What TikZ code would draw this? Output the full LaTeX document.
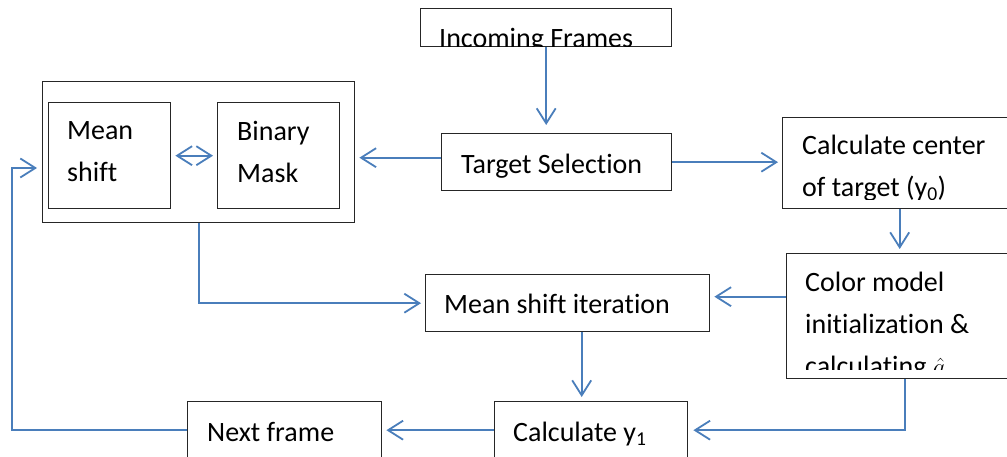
\documentclass[tikz,border=0pt]{standalone}
\usepackage{fontspec}
\setmainfont{Carlito}[Ligatures=NoCommon]
\usepackage{tikz}
\usetikzlibrary{arrows.meta}
\definecolor{flowblue}{RGB}{74,126,187}

\begin{document}
\begin{tikzpicture}[x=1pt,y=-1pt,
  >={Straight Barb[length=15pt,width=19pt]},
  box/.style={draw=black!85,line width=1.4pt,anchor=north west,inner sep=0pt},
  lbl/.style={anchor=north west,inner sep=0pt,align=left,font=\fontsize{28}{42}\selectfont,
              execute at begin node=\rule{0pt}{22pt}},
  link/.style={draw=flowblue,line width=1.8pt,->,shorten >=4pt},
]
\useasboundingbox (0,0) rectangle (1007,457);
\clip (0,0) rectangle (1007,457);
% blocks
\node[box,minimum width=251pt,minimum height=38pt] (inc) at (420,8) {};
\node[box,minimum width=230pt,minimum height=57pt] (tsel) at (441,133) {};
\node[box,minimum width=312pt,minimum height=141pt] (grp) at (42,81) {};
\node[box,minimum width=122pt,minimum height=106pt] (ms) at (48,102) {};
\node[box,minimum width=122pt,minimum height=106pt] (bm) at (217,102) {};
\node[box,minimum width=234pt,minimum height=91pt] (calc) at (782,117) {};
\node[box,minimum width=236pt,minimum height=125pt] (col) at (786,253) {};
\node[box,minimum width=284pt,minimum height=57pt] (msi) at (425,274) {};
\node[box,minimum width=193pt,minimum height=57pt] (cy) at (494,401) {};
\node[box,minimum width=194pt,minimum height=57pt] (nf) at (187,401) {};
% labels
\begin{scope}
  \clip (inc.north west) rectangle ([yshift=1pt]inc.south east);
  \node[lbl] (inct) at ([shift={(19,17)}]inc.north west) {Incoming Frames};
\end{scope}
\node[lbl] (tselt) at ([shift={(20,18)}]tsel.north west) {Target Selection};
\node[lbl] (mst) at ([shift={(19,19)}]ms.north west) {Mean\\shift};
\node[lbl] (bmt) at ([shift={(20,19)}]bm.north west) {Binary\\Mask};
\begin{scope}
  \clip (calc.north west) rectangle ([yshift=10pt]calc.south east);
  \node[lbl] (calct) at ([shift={(20,18)}]calc.north west) {Calculate center\\of target (y\textsubscript{0})};
\end{scope}
\begin{scope}
  \clip (col.north west) rectangle ([yshift=10pt]col.south east);
  \node[lbl] (colt) at ([shift={(19,19)}]col.north west) {Color model\\initialization \&\\calculating $\hat{q}$};
\end{scope}
\node[lbl] (msit) at ([shift={(19,17)}]msi.north west) {Mean shift iteration};
\node[lbl] (cyt) at ([shift={(19,18)}]cy.north west) {Calculate y\textsubscript{1}};
\node[lbl] (nft) at ([shift={(20,18)}]nf.north west) {Next frame};
% connectors
\coordinate (selout) at ([yshift=4.5pt]tsel.west);
\coordinate (colout) at ([yshift=19.5pt]col.west);
\coordinate (msiout) at ([xshift=14pt]msi.south);
\coordinate (back) at (12,168);
\draw[link,shorten >=8pt] (inc.south) -- (inc.south |- tsel.north);
\draw[link] (selout) -- (selout -| grp.east);
\draw[link,<->,shorten <=4pt] (ms) -- (bm);
\draw[link] (tsel.east) -- (tsel.east -| calc.west);
\draw[link] (calc.south) -- (calc.south |- col.north);
\draw[link] (colout) -- (colout -| msi.east);
\draw[link] (grp.south) |- (msi.west);
\draw[link] (msiout) -- (msiout |- cy.north);
\draw[link,shorten >=5pt] (col.south) |- (cy.east);
\draw[link] (cy.west) -- (nf.east);
\draw[link,shorten >=5pt] (nf.west) -| (back) -- (back -| grp.west);
\end{tikzpicture}
\end{document}
